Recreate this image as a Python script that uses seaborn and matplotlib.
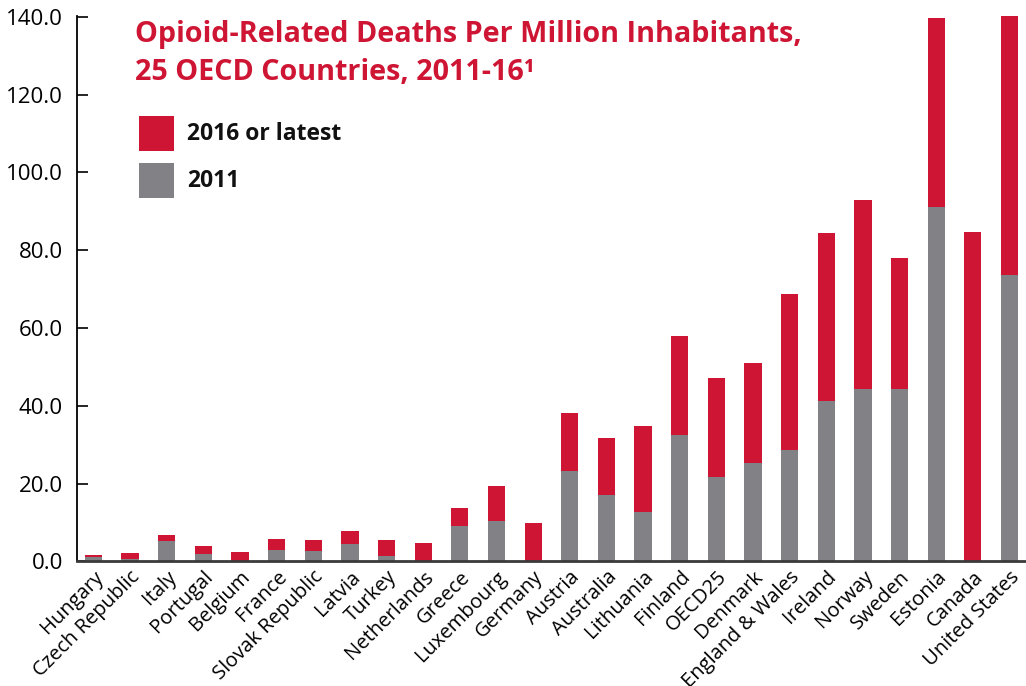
import matplotlib
matplotlib.use("Agg")
import matplotlib.pyplot as plt
from matplotlib.patches import Rectangle
from matplotlib.ticker import FormatStrFormatter
import seaborn as sns
import pandas as pd

countries = ["Hungary", "Czech Republic", "Italy", "Portugal", "Belgium", "France",
             "Slovak Republic", "Latvia", "Turkey", "Netherlands", "Greece", "Luxembourg",
             "Germany", "Austria", "Australia", "Lithuania", "Finland", "OECD25", "Denmark",
             "England & Wales", "Ireland", "Norway", "Sweden", "Estonia", "Canada",
             "United States"]
latest = [1.7, 2.2, 6.9, 4.0, 2.5, 5.8, 5.6, 7.9, 5.6, 4.8, 13.8, 19.5, 9.9,
          38.2, 31.8, 34.8, 58.0, 47.2, 51.0, 68.8, 84.4, 92.9, 78.0, 139.7, 84.7, 141.0]
y2011 = [1.2, 0.7, 5.3, 2.0, 0.0, 3.0, 2.7, 4.5, 1.5, 0.0, 9.2, 10.5, 0.0,
         23.3, 17.2, 12.8, 32.6, 21.8, 25.4, 28.7, 41.2, 44.2, 44.2, 91.1, 0.0, 73.6]
yticks = [0, 20, 40, 60, 80, 100, 120, 140]
legend_labels = ["2016 or latest", "2011"]

RED = "#CF1534"
GREY = "#828286"

sns.set_theme(style="white")
plt.rcParams["font.family"] = ["Open Sans", "DejaVu Sans"]

df = pd.DataFrame({"country": countries, "latest": latest, "y2011": y2011})

W, H = 1026, 686
fig = plt.figure(figsize=(W / 100, H / 100), dpi=100)
ax = fig.add_axes([0.075, 0.1815, 0.925, 0.7953])

sns.barplot(data=df, x="country", y="latest", color=RED, saturation=1, width=0.47,
            linewidth=0, ax=ax)
sns.barplot(data=df, x="country", y="y2011", color=GREY, saturation=1, width=0.47,
            linewidth=0, ax=ax)

ax.set_ylim(0, 140.2)
ax.set_xlim(-0.45, len(countries) - 0.55)
ax.set_yticks(yticks)
ax.yaxis.set_major_formatter(FormatStrFormatter("%.1f"))
ax.set_xlabel("")
ax.set_ylabel("")

for s in ["top", "right"]:
    ax.spines[s].set_visible(False)
ax.spines["left"].set_color("black")
ax.spines["left"].set_linewidth(1.3)
ax.spines["bottom"].set_color("#3a3a3a")
ax.spines["bottom"].set_linewidth(2)

ax.tick_params(axis="y", direction="in", length=8, width=1.2, color="black",
               labelsize=16, labelcolor="black", pad=10, left=True)
ax.tick_params(axis="x", length=0, labelsize=14.5, labelcolor="black", pad=4)
plt.setp(ax.get_xticklabels(), rotation=45, ha="right", rotation_mode="anchor")

fig.text(135 / W, 1 - 42 / H, "Opioid-Related Deaths Per Million Inhabitants,",
         color=RED, fontsize=20.7, fontweight="bold", ha="left", va="baseline")
fig.text(135 / W, 1 - 80 / H, "25 OECD Countries, 2011-16\u00b9",
         color=RED, fontsize=20.7, fontweight="bold", ha="left", va="baseline")

# legend (manual swatches)
for i, (lab, col) in enumerate(zip(legend_labels, [RED, GREY])):
    top = 116 + i * 47
    fig.add_artist(Rectangle((139 / W, 1 - (top + 35) / H), 35 / W, 35 / H,
                             transform=fig.transFigure, facecolor=col, edgecolor="none"))
    fig.text(187 / W, 1 - (top + 18) / H, lab, color="#111111", fontsize=16.5,
             fontweight="bold", ha="left", va="center")

fig.savefig("out.png", dpi=100)
